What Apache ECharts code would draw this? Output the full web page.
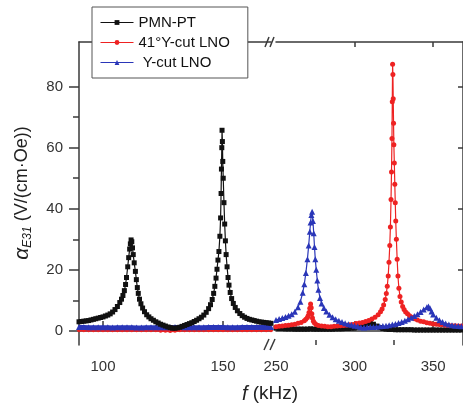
<!DOCTYPE html>
<html>
<head>
<meta charset="utf-8">
<script src="https://cdn.jsdelivr.net/npm/echarts@6/dist/echarts.min.js"></script>
<style>
  html, body { margin: 0; padding: 0; background: #fff; }
  #chart { width: 463px; height: 404px; }
</style>
</head>
<body>
<div id="chart"></div>
<script>
// frequencies (kHz) and alpha_E31 values (V/(cm·Oe))
// left part of the broken axis: 90 - 170 kHz
var pmnLeftF = [90,91,92,93,94,95,96,97,98,99,100,101,102,103,104,105,106,107,107.7,108.3,108.9,109.4,109.8,110.3,110.7,111.1,111.4,111.7,112,112.3,112.6,113,113.5,113.9,114.3,114.7,115.2,115.8,116.5,117.3,118.2,119.1,120,121,122,123,124,125,126,127,128,129,130,131,132,133,134,135,136,137,138,139,140,141,142,143,144,144.8,145.5,146.1,146.6,147.1,147.5,147.9,148.3,148.7,149,149.2,149.35,149.5,149.6,149.75,149.9,150.1,150.4,150.7,151,151.3,151.7,152.1,152.5,153,153.6,154.3,155.1,156,157,158,159,160,161,162,163,164,165,166,167,168,169,170];
var pmnLeftV = [3.0,3.1,3.2,3.3,3.4,3.6,3.8,4.0,4.2,4.4,4.6,4.9,5.2,5.6,6.2,7.0,8.0,9.3,10.4,11.6,13.2,15.2,17.5,21.0,24.0,26.8,28.5,29.8,29.2,27.2,25.0,22.3,19.5,16.8,14.2,12.3,10.4,8.9,7.5,6.3,5.3,4.6,4.0,3.5,3.0,2.6,2.2,1.9,1.6,1.3,1.1,0.9,0.9,1.0,1.2,1.5,1.8,2.1,2.4,2.7,3.1,3.5,4.0,4.5,5.2,6.1,7.3,8.6,10.3,12.3,14.6,17.3,20.2,23.2,26.0,31.0,37.0,45.0,53.0,60.0,65.7,62.0,55.5,50.0,42.0,35.0,29.5,25.0,21.0,17.5,15.0,12.6,10.6,9.0,7.7,6.6,5.7,5.0,4.5,4.1,3.8,3.6,3.4,3.2,3.0,2.9,2.8,2.7,2.6,2.5];

var flatLeftF = [90,92,94,96,98,100,102,104,106,108,110,112,114,116,118,120,122,124,126,128,130,132,134,136,138,140,142,144,146,148,150,152,154,156,158,160,162,164,166,168,170];
var lno41LeftV = [0.2,0.2,0.2,0.2,0.2,0.2,0.2,0.2,0.2,0.2,0.2,0.2,0.2,0.2,0.2,0.2,0.2,0.1,0.1,0.0,0.1,0.2,0.2,0.2,0.2,0.2,0.2,0.2,0.2,0.2,0.2,0.2,0.2,0.2,0.2,0.2,0.2,0.2,0.2,0.2,0.2];
var ycutLeftV = [1.3,1.3,1.2,1.2,1.2,1.2,1.2,1.1,1.2,1.2,1.2,1.2,1.1,1.1,1.2,1.2,1.2,1.2,1.2,1.2,1.3,1.3,1.2,1.2,1.2,1.2,1.2,1.3,1.3,1.3,1.3,1.2,1.2,1.2,1.3,1.3,1.3,1.3,1.3,1.3,1.3];

// right part of the broken axis: 250 - 369 kHz
var pmnRightF = [250,252,254,256,258,260,262,264,266,268,270,272,274,276,278,280,282,284,286,288,290,292,294,296,298,300,302,304,306,308,310,312,314,316,318,320,322,324,326,328,330,332,334,336,338,340,342,344,346,348,350,352,354,356,358,360,362,364,366,368];
var pmnRightV = [0.9,0.8,0.8,0.7,0.7,0.7,0.6,0.6,0.6,0.6,0.6,0.7,0.6,0.6,0.6,0.6,0.6,0.6,0.6,0.7,0.7,0.7,0.8,0.8,0.9,1.0,1.2,1.5,1.9,2.3,2.5,2.2,1.6,1.1,0.8,0.6,0.5,0.5,0.4,0.4,0.4,0.4,0.4,0.4,0.3,0.3,0.3,0.3,0.3,0.3,0.3,0.3,0.3,0.3,0.3,0.3,0.3,0.3,0.3,0.3];

var lno41RightF = [250,252,254,256,258,260,262,264,266,268,269,270,270.5,271,271.5,272,272.4,272.8,273.2,273.8,274.5,275.5,277,279,281,283,285,287,289,291,293,295,297,299,301,303,305,307,309,311,313,315,316.5,317.5,318.5,319.5,320.2,320.8,321.4,321.9,322.4,322.8,323.2,323.5,323.8,324,324.2,324.4,324.6,324.8,325,325.3,325.6,325.9,326.2,326.6,327.1,327.6,328.2,328.9,329.7,330.6,331.5,332.5,333.7,335,336.5,338,340,342,344,346,348,350,352,354,356,358,360,362,364,366,368];
var lno41RightV = [1.4,1.5,1.6,1.8,1.9,2.0,2.2,2.5,2.8,3.3,3.8,4.4,5.0,6.0,7.4,8.8,7.6,5.6,4.2,3.2,2.6,2.1,1.8,1.6,1.5,1.4,1.4,1.5,1.6,1.7,1.8,1.9,2.0,2.1,2.4,2.6,2.8,3.1,3.4,3.9,4.5,5.3,6.3,7.2,8.5,10.3,12.3,14.6,18.0,22.5,28.0,34.0,43.0,52.0,63.0,75.0,87.3,84.0,76.0,68.0,61.0,55.0,48.0,42.0,36.0,30.0,23.5,18.0,14.0,11.3,9.5,8.0,7.0,6.2,5.6,5.0,4.5,4.0,3.6,3.2,3.0,2.7,2.5,2.3,2.2,2.1,2.0,1.9,1.8,1.7,1.7,1.6,1.6];

var ycutRightF = [250,252,254,256,258,260,262,264,265.5,267,268,269,270,270.8,271.5,272,272.5,273,273.5,274,274.5,275,275.6,276.3,277,278,279,280.5,282,284,286,288,290,292,294,296,298,300,302,304,306,308,310,312,314,316,318,320,322,324,326,328,330,332,334,336,338,340,342,344,346,347,348,349,350,352,354,356,358,360,362,364,366,368];
var ycutRightV = [3.6,3.9,4.2,4.6,5.0,5.5,6.3,7.8,9.6,12.5,15.3,19.0,23.5,28.0,32.5,35.5,38.0,39.0,36.0,32.0,27.5,23.5,20.0,16.5,13.5,10.8,9.0,7.5,6.4,5.3,4.5,3.8,3.3,2.9,2.5,2.2,2.0,1.7,1.5,1.2,1.1,1.2,1.3,1.3,1.4,1.5,1.6,1.7,1.9,2.1,2.3,2.6,2.9,3.3,3.8,4.3,4.9,5.5,6.2,7.0,7.8,8.0,7.4,6.4,5.4,4.3,3.5,2.9,2.4,2.1,1.9,1.7,1.6,1.5];

var yTicks = [0, 20, 40, 60, 80];
var yMinorTicks = [10, 30, 50, 70];
var xLeftTicks = [100, 150];
var xLeftMinor = [125];
var xRightTicks = [300, 350];
var xRightLabels = [250, 300, 350];
var xRightMinor = [275, 325];

var FONT = '"Liberation Sans", Arial, sans-serif';
var AXIS = '#3a3a3a';
var BLACK = '#111111', RED = '#ee2222', BLUE = '#2a36b8';

function zip(f, v) {
  var out = [];
  for (var i = 0; i < f.length; i++) out.push([f[i], v[i]]);
  return out;
}

function line(name, f, v, side, color, symbol, size, width, z) {
  return {
    name: name, type: 'line',
    xAxisIndex: side, yAxisIndex: side,
    data: zip(f, v),
    symbol: symbol, symbolSize: size, showSymbol: true,
    lineStyle: { color: color, width: width },
    itemStyle: { color: color },
    z: z, animation: false
  };
}

var chart = echarts.init(document.getElementById('chart'));
var gridTop = 42, gridH = 303;

chart.setOption({
  backgroundColor: '#fff',
  animation: false,
  grid: [
    { left: 79, top: gridTop, width: 192, height: gridH },
    { left: 276, top: gridTop, width: 188, height: gridH }
  ],
  legend: {
    orient: 'vertical', left: 92, top: 7,
    data: ['PMN-PT', '41°Y-cut LNO', 'Y-cut LNO'],
    itemWidth: 33, itemHeight: 6, itemGap: 5,
    padding: [8, 18, 8, 8],
    backgroundColor: '#fff', borderColor: '#555', borderWidth: 1,
    lineStyle: { width: 1 },
    textStyle: { fontFamily: FONT, fontSize: 15, color: '#111', lineHeight: 15 },
    formatter: function (n) { return n === 'Y-cut LNO' ? ' Y-cut LNO' : n; }
  },
  xAxis: [
    { type: 'value', gridIndex: 0, position: 'bottom', min: 90, max: 170,
      axisLine: { lineStyle: { color: AXIS, width: 1.5 } },
      axisTick: { inside: true, length: 10, customValues: xLeftTicks, lineStyle: { color: AXIS, width: 1.5 } },
      axisLabel: { customValues: xLeftTicks, margin: 14, fontFamily: FONT, fontSize: 15, color: '#333' },
      splitLine: { show: false } },
    { type: 'value', gridIndex: 1, position: 'bottom', min: 250, max: 369,
      axisLine: { lineStyle: { color: AXIS, width: 1.5 } },
      axisTick: { inside: true, length: 10, customValues: xRightTicks, lineStyle: { color: AXIS, width: 1.5 } },
      axisLabel: { customValues: xRightLabels, margin: 14, fontFamily: FONT, fontSize: 15, color: '#333' },
      splitLine: { show: false } },
    { type: 'value', gridIndex: 0, position: 'bottom', min: 90, max: 170,
      axisLine: { show: false },
      axisTick: { inside: true, length: 5, customValues: xLeftMinor, lineStyle: { color: AXIS, width: 1.5 } },
      axisLabel: { show: false }, splitLine: { show: false } },
    { type: 'value', gridIndex: 1, position: 'bottom', min: 250, max: 369,
      axisLine: { show: false },
      axisTick: { inside: true, length: 5, customValues: xRightMinor, lineStyle: { color: AXIS, width: 1.5 } },
      axisLabel: { show: false }, splitLine: { show: false } },
    { type: 'value', gridIndex: 0, position: 'top', min: 90, max: 170,
      axisLine: { lineStyle: { color: AXIS, width: 1.5 } },
      axisTick: { show: false }, axisLabel: { show: false }, splitLine: { show: false } },
    { type: 'value', gridIndex: 1, position: 'top', min: 250, max: 369,
      axisLine: { lineStyle: { color: AXIS, width: 1.5 } },
      axisTick: { inside: true, length: 5, customValues: xRightTicks, lineStyle: { color: AXIS, width: 1.5 } },
      axisLabel: { show: false }, splitLine: { show: false } }
  ],
  yAxis: [
    { type: 'value', gridIndex: 0, position: 'left', min: -4.6, max: 94.6,
      axisLine: { show: true, lineStyle: { color: AXIS, width: 1.5 } },
      axisTick: { show: true, length: 10, customValues: yTicks, lineStyle: { color: AXIS, width: 1.5 } },
      axisLabel: { customValues: yTicks, margin: 16, fontFamily: FONT, fontSize: 15, color: '#333' },
      splitLine: { show: false } },
    { type: 'value', gridIndex: 1, position: 'right', min: -4.6, max: 94.6,
      axisLine: { show: true, lineStyle: { color: AXIS, width: 1.5 } },
      axisTick: { show: true, inside: true, length: 5, customValues: yTicks, lineStyle: { color: AXIS, width: 1.5 } },
      axisLabel: { show: false }, splitLine: { show: false } },
    { type: 'value', gridIndex: 0, position: 'left', min: -4.6, max: 94.6,
      axisLine: { show: false },
      axisTick: { show: true, length: 6, customValues: yMinorTicks, lineStyle: { color: AXIS, width: 1.5 } },
      axisLabel: { show: false }, splitLine: { show: false } }
  ],
  graphic: [
    // axis break marks
    { type: 'line', shape: { x1: 264, y1: 350, x2: 269, y2: 339 }, style: { stroke: AXIS, lineWidth: 1.5 }, z: 100 },
    { type: 'line', shape: { x1: 270, y1: 350, x2: 275, y2: 339 }, style: { stroke: AXIS, lineWidth: 1.5 }, z: 100 },
    { type: 'line', shape: { x1: 265, y1: 47, x2: 269, y2: 37 }, style: { stroke: AXIS, lineWidth: 1.5 }, z: 100 },
    { type: 'line', shape: { x1: 270, y1: 47, x2: 274, y2: 37 }, style: { stroke: AXIS, lineWidth: 1.5 }, z: 100 },
    { type: 'text', x: 270, y: 394, z: 100,
      style: { text: '{i|f} (kHz)', fill: '#222', font: '19px ' + FONT, align: 'center', verticalAlign: 'middle',
        rich: { i: { fontStyle: 'italic', fontSize: 20, fontFamily: FONT, fill: '#222' } } } },
    { type: 'text', x: 22, y: 193, rotation: Math.PI / 2, z: 100,
      style: { text: '{a|α}{s|E31} (V/(cm·Oe))', fill: '#222', font: '18px ' + FONT, align: 'center', verticalAlign: 'middle',
        rich: {
          a: { fontStyle: 'italic', fontSize: 21, fontFamily: FONT, fill: '#222', lineHeight: 24 },
          s: { fontStyle: 'italic', fontSize: 12, fontFamily: FONT, fill: '#222', lineHeight: 24, verticalAlign: 'bottom' }
        } } }
  ],
  series: [
    line('41°Y-cut LNO', flatLeftF, lno41LeftV, 0, RED, 'circle', 4, 2.5, 2),
    line('Y-cut LNO', flatLeftF, ycutLeftV, 0, BLUE, 'triangle', 6, 4, 3),
    line('PMN-PT', pmnLeftF, pmnLeftV, 0, BLACK, 'rect', 5, 1.2, 4),
    line('PMN-PT', pmnRightF, pmnRightV, 1, BLACK, 'rect', 5, 1.5, 2),
    line('41°Y-cut LNO', lno41RightF, lno41RightV, 1, RED, 'circle', 5, 1.2, 3),
    line('Y-cut LNO', ycutRightF, ycutRightV, 1, BLUE, 'triangle', 6, 1.2, 4)
  ]
});
</script>
</body>
</html>
